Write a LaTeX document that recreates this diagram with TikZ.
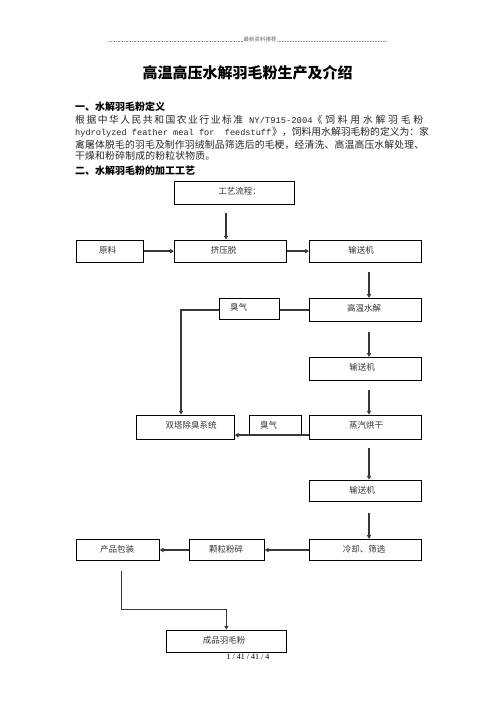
\documentclass[tikz,border=0pt]{standalone}
\usepackage{fontspec}
\usetikzlibrary{arrows.meta,calc}
\newfontfamily\cjk{Noto Sans CJK SC}
\newfontfamily\mono{Liberation Mono}
\newfontfamily\serifl{Liberation Serif}
\def\spreadA#1{#1\spreadB}
\def\spreadB#1{\ifx\relax#1\else\hfil#1\expandafter\spreadB\fi}
\newcommand\spr[2]{\hbox to #1pt{\spreadA#2\relax}}
\tikzset{
  boxn/.style={draw=black, line width=0.9pt, inner sep=0pt, fill=none},
  btxt/.style={inner sep=0pt, font=\cjk\fontsize{8.5}{10}\selectfont, text=black!80},
  body/.style={inner sep=0pt, anchor=base west, font=\cjk\fontsize{9.8}{12}\selectfont, text=black!85},
  head/.style={inner sep=0pt, anchor=base west, font=\cjk\bfseries\fontsize{10}{12}\selectfont},
  conn/.style={line width=1.35pt, draw=black!78},
  arr/.style={conn, -{Triangle[length=3.8pt,width=4.2pt]}},
}
\newcommand\mkbox[5]{\node[boxn, minimum width={(#4-#2)*1pt}, minimum height={(#5-#3)*1pt}] (#1) at ({(#2+#4)/2},{(#3+#5)/2}) {};}
\begin{document}
\begin{tikzpicture}[x=1pt,y=-1pt]
\useasboundingbox (0,0) rectangle (496,702);
\fill[white] (0,0) rectangle (496,702);
% header
\draw[black!40, line width=0.4pt, dash pattern=on 0.5pt off 1.1pt] (108,41) -- (243,41);
\draw[black!40, line width=0.4pt, dash pattern=on 0.5pt off 1.1pt] (277,41) -- (387,41);
\node[inner sep=0pt, font=\cjk\fontsize{5.5}{6}\selectfont, text=black!60] (hdr) at (260,39.3) {最新资料推荐};
% title
\node[inner sep=0pt, font=\cjk\bfseries\fontsize{15}{18}\selectfont] (title) at (247.5,73) {高温高压水解羽毛粉生产及介绍};
% section 1
\node[head] (h1) at (75,110.8) {一、水解羽毛粉定义};
\node[body] (l1a) at (75,123.2) {\spr{168}{根据中华人民共和国农业行业标准}};
\node[body, font=\mono\fontsize{8.8}{12}\selectfont] (l1b) at (249,123.2) {NY/T915-2004};
\node[body] (l1c) at (312.5,123.2) {\spr{110.5}{《饲料用水解羽毛粉}};
\node[body, font=\mono\fontsize{8.6}{12}\selectfont] (l2a) at (75,135.7) {hydrolyzed feather meal for\ \ feedstuff};
\node[body] (l2b) at (272,135.7) {\spr{151}{》，饲料用水解羽毛粉的定义为：家}};
\node[body] (l3) at (75,148.2) {\spr{349}{禽屠体脱毛的羽毛及制作羽绒制品筛选后的毛梗，经清洗、高温高压水解处理、}};
\node[body] (l4) at (75,159.7) {\spr{140}{干燥和粉碎制成的粉粒状物质。}};
\node[head] (h2) at (75,174.8) {二、水解羽毛粉的加工工艺};
% boxes
\mkbox{gy}{174.3}{181.7}{294.3}{204.3}
\mkbox{yl}{76}{240}{143.3}{262.3}
\mkbox{jy}{174.3}{240}{286.7}{262.3}
\mkbox{ssa}{309.3}{240}{421.7}{262.3}
\mkbox{cqa}{219.3}{298.3}{279.3}{319}
\mkbox{gw}{309.3}{298.3}{421.7}{321.7}
\mkbox{ssb}{309.3}{357.3}{421.7}{380.7}
\mkbox{st}{136.7}{415}{234.3}{439.3}
\mkbox{cqb}{249.3}{415}{301.7}{435.7}
\mkbox{zq}{309.3}{415}{421.7}{439.3}
\mkbox{ssc}{309.3}{480}{421.7}{501.7}
\mkbox{cp}{76}{539.3}{159.3}{560.7}
\mkbox{kl}{189.3}{539.3}{264.3}{560.7}
\mkbox{lq}{309.3}{539.3}{421.7}{560.7}
\mkbox{cpy}{166}{630}{286.7}{652.7}
% box texts
\node[btxt] (gy-t) at (239.5,191.7) {工艺流程：};
\node[btxt] (yl-t) at (107.5,250.7) {原料};
\node[btxt] (jy-t) at (223.7,250.7) {挤压脱};
\node[btxt] (ssa-t) at (361,250.7) {输送机};
\node[btxt] (cqa-t) at (238.5,307.7) {臭气};
\node[btxt] (gw-t) at (364,308) {高温水解};
\node[btxt] (ssb-t) at (362,367.3) {输送机};
\node[btxt] (st-t) at (191,425) {双塔除臭系统};
\node[btxt] (cqb-t) at (268.7,425) {臭气};
\node[btxt] (zq-t) at (366,425) {蒸汽烘干};
\node[btxt] (ssc-t) at (362,490) {输送机};
\node[btxt] (cp-t) at (117,549.3) {产品包装};
\node[btxt] (kl-t) at (226,549.3) {颗粒粉碎};
\node[btxt] (lq-t) at (364,549.3) {冷却、筛选};
\node[btxt] (cpy-t) at (224,640) {成品羽毛粉};
\node[inner sep=0pt, font=\serifl\fontsize{8}{9}\selectfont] (pg) at (248,656.5) {1 / 41 / 41 / 4};
% connectors
\draw[arr, shorten <=8.7pt] ([xshift=-8.3pt]gy.south) -- ([xshift=-8.3pt]gy.south |- jy.north);
\draw[arr] (yl.east) -- (jy.west);
\draw[arr] (jy.east) -- (ssa.west);
\draw[arr, shorten <=9.4pt] ([xshift=3.5pt]ssa.south) -- ([xshift=3.5pt]gw.north);
\draw[arr, shorten <=10pt] ([xshift=3.5pt]gw.south) -- ([xshift=3.5pt]ssb.north);
\draw[arr, shorten <=8.6pt] ([xshift=3.5pt]ssb.south) -- ([xshift=3.5pt]zq.north);
\draw[arr, shorten <=8.4pt] ([xshift=3.5pt]zq.south) -- ([xshift=3.5pt]ssc.north);
\draw[arr, shorten <=11pt] ([xshift=3.5pt]ssc.south) -- ([xshift=3.5pt]lq.north);
\draw[conn] (gw.west) -- (gw.west -| cqa.east);
\draw[arr] (gw.west -| cqa.west) -| ([xshift=-4.5pt]st.north);
\draw[arr] ([yshift=4.6pt]zq.south west) -- ([yshift=4.6pt]zq.south west -| st.east);
\draw[arr] (lq.west) -- (kl.east);
\draw[arr] (kl.west) -- (cp.east);
\draw[arr, shorten <=10pt] ([xshift=4pt]cp.south) |- ([yshift=20pt]cpy.north) -- (cpy.north);
\end{tikzpicture}
\end{document}
